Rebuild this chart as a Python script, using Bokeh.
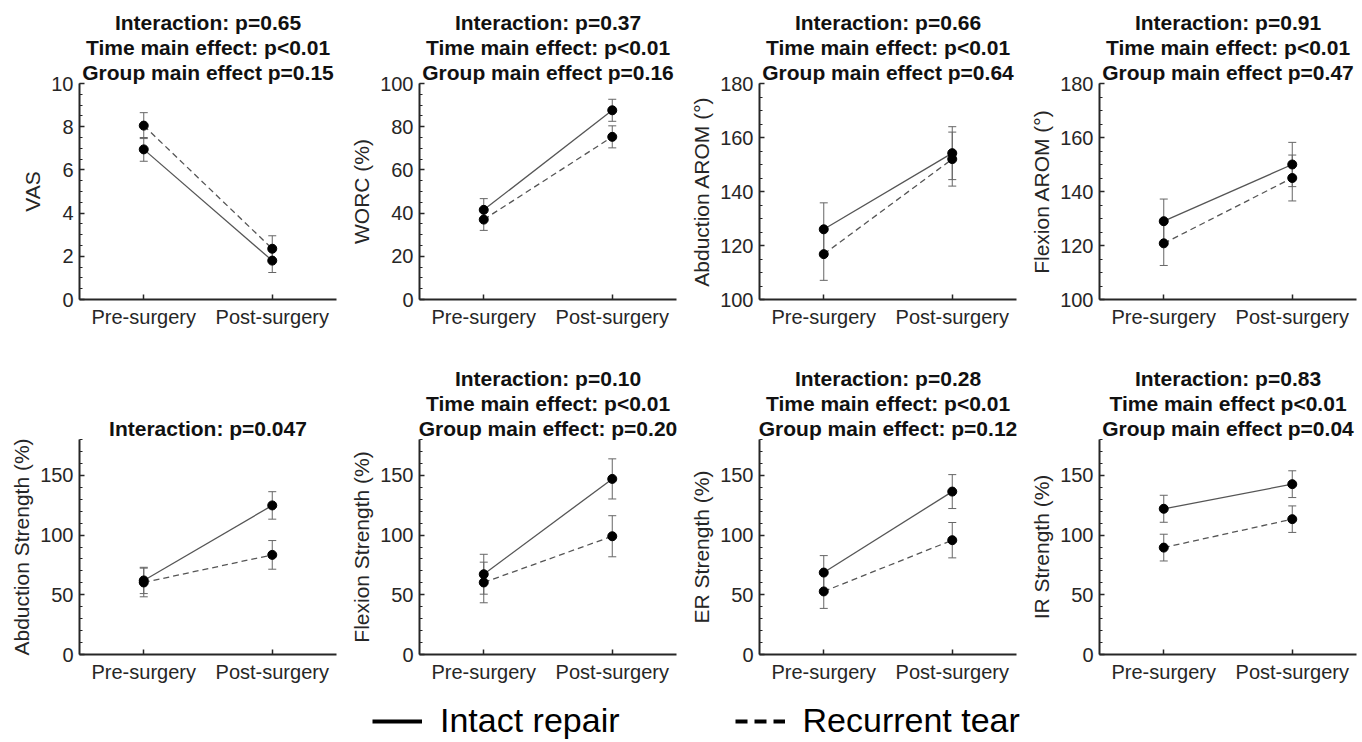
from bokeh.plotting import figure
from bokeh.layouts import column, row
from bokeh.models import (Range1d, FixedTicker, Whisker, TeeHead, ColumnDataSource,
                          Legend, LegendItem, Title)
from bokeh.embed import file_html
from bokeh.resources import INLINE
import numpy as np

# ---------------- data ----------------
timepoints = ["Pre-surgery", "Post-surgery"]
x_pos = [1, 2]
groups = ["Intact repair", "Recurrent tear"]

ylabels = ["VAS", "WORC (%)", "Abduction AROM (°)", "Flexion AROM (°)",
           "Abduction Strength (%)", "Flexion Strength (%)", "ER Strength (%)", "IR Strength (%)"]

titles = [
    ["Interaction: p=0.65", "Time main effect: p<0.01", "Group main effect p=0.15"],
    ["Interaction: p=0.37", "Time main effect: p<0.01", "Group main effect p=0.16"],
    ["Interaction: p=0.66", "Time main effect: p<0.01", "Group main effect p=0.64"],
    ["Interaction: p=0.91", "Time main effect: p<0.01", "Group main effect p=0.47"],
    ["Interaction: p=0.047"],
    ["Interaction: p=0.10", "Time main effect: p<0.01", "Group main effect: p=0.20"],
    ["Interaction: p=0.28", "Time main effect: p<0.01", "Group main effect: p=0.12"],
    ["Interaction: p=0.83", "Time main effect p<0.01", "Group main effect p=0.04"],
]

# mean values (pre, post)
intact_mean = [
    [6.95, 1.80], [41.5, 87.6], [126.0, 154.2], [129.0, 150.0],
    [62.0, 124.8], [67.2, 147.0], [68.6, 136.4], [122.0, 142.6],
]
intact_err = [
    [0.55, 0.55], [5.2, 5.1], [9.8, 9.8], [8.2, 8.2],
    [11.0, 11.5], [16.7, 16.8], [14.2, 14.2], [11.3, 11.2],
]
recurrent_mean = [
    [8.05, 2.35], [37.0, 75.3], [116.8, 152.0], [120.8, 145.0],
    [60.3, 83.4], [60.3, 99.0], [52.8, 95.7], [89.5, 113.3],
]
recurrent_err = [
    [0.60, 0.60], [5.0, 5.1], [9.7, 10.0], [8.2, 8.5],
    [12.0, 12.0], [17.0, 17.2], [14.2, 14.8], [11.2, 11.1],
]

# axis limits / ticks
y_lo = [0, 0, 100, 100, 0, 0, 0, 0]
y_hi = [10, 100, 180, 180, 180, 180, 180, 180]
y_major = [2, 20, 20, 20, 50, 50, 50, 50]
y_minor = [0.5, 5, 5, 5, 10, 10, 10, 10]

# ---------------- style ----------------
AX = "#262626"
LINE = "#555555"
FONT = "Liberation Sans"
TSIZE = "21px"


def style_title(t):
    t.align = "center"
    t.text_font = FONT
    t.text_font_size = TSIZE
    t.text_font_style = "bold"
    t.text_color = "#111111"
    t.standoff = 0
    t.offset = 0


def make_panel(i, width, height, top, bottom, right):
    lines = titles[i]
    p = figure(width=width, height=height,
               x_range=Range1d(0.5, 2.5), y_range=Range1d(y_lo[i], y_hi[i]),
               output_backend="svg", toolbar_location=None,
               min_border_left=79, min_border_right=right,
               min_border_top=top, min_border_bottom=bottom,
               title=lines[0])
    style_title(p.title)
    # extra title lines: the first one added sits closest to the plot frame
    for line in reversed(lines[1:]):
        t = Title(text=line)
        style_title(t)
        p.add_layout(t, "above")

    p.xgrid.visible = False
    p.ygrid.visible = False
    p.outline_line_color = None
    p.background_fill_color = "white"
    p.border_fill_color = "white"

    p.xaxis.ticker = FixedTicker(ticks=x_pos)
    p.xaxis.major_label_overrides = {x: t for x, t in zip(x_pos, timepoints)}
    yt = list(np.arange(y_lo[i], y_hi[i] + 1e-9, y_major[i]))
    ym = list(np.arange(y_lo[i], y_hi[i] + 1e-9, y_minor[i]))
    p.yaxis.ticker = FixedTicker(ticks=yt, minor_ticks=ym)
    p.yaxis.axis_label = ylabels[i]

    for ax in p.axis:
        ax.axis_line_color = AX
        ax.axis_line_width = 2
        ax.major_tick_line_color = AX
        ax.major_tick_line_width = 1.5
        ax.minor_tick_line_color = AX
        ax.minor_tick_line_width = 1.2
        ax.major_tick_in = 5
        ax.major_tick_out = 0
        ax.minor_tick_in = 3
        ax.minor_tick_out = 0
        ax.major_label_text_font = FONT
        ax.major_label_text_font_size = "20px"
        ax.major_label_text_color = AX
        ax.major_label_standoff = 6
        ax.axis_label_text_font = FONT
        ax.axis_label_text_font_size = "21px"
        ax.axis_label_text_font_style = "normal"
        ax.axis_label_text_color = AX
        ax.axis_label_standoff = 4

    for means, errs, dash in ((intact_mean[i], intact_err[i], "solid"),
                              (recurrent_mean[i], recurrent_err[i], "6 4")):
        lo = [m - e for m, e in zip(means, errs)]
        hi = [m + e for m, e in zip(means, errs)]
        src = ColumnDataSource(dict(x=x_pos, y=means, lower=lo, upper=hi))
        w = Whisker(source=src, base="x", lower="lower", upper="upper",
                    line_color="#666666", line_width=1, level="underlay",
                    upper_head=TeeHead(size=8, line_color="#666666", line_width=1),
                    lower_head=TeeHead(size=8, line_color="#666666", line_width=1))
        p.add_layout(w)
        p.line("x", "y", source=src, line_color=LINE, line_width=1.3, line_dash=dash)
        p.scatter("x", "y", source=src, size=9, color="black")
    return p


widths = [340, 340, 340, 340]
rights = [4, 4, 4, 4]
row1 = [make_panel(i, widths[i], 360, 83, 61, rights[i]) for i in range(4)]
row2 = [make_panel(i + 4, widths[i], 325, 79, 30, rights[i]) for i in range(4)]

# legend figure (legend entries only; the lines hold no visible data)
lp = figure(width=1360, height=55, x_range=Range1d(0, 1), y_range=Range1d(0, 1),
            output_backend="svg", toolbar_location=None, min_border=0,
            x_axis_location=None, y_axis_location=None)
lp.outline_line_color = None
lp.xgrid.visible = False
lp.ygrid.visible = False
nan2 = np.array([np.nan, np.nan])
r1 = lp.line(x=nan2, y=nan2, line_color="black", line_width=4)
r2 = lp.line(x=nan2, y=nan2, line_color="black", line_width=4, line_dash="12 7")
legend = Legend(items=[LegendItem(label=groups[0], renderers=[r1]),
                       LegendItem(label=groups[1], renderers=[r2])],
                location=(372, 0), orientation="horizontal",
                glyph_width=50, glyph_height=30, label_standoff=18, spacing=115,
                padding=0, margin=0, border_line_color=None,
                background_fill_alpha=0,
                label_text_font=FONT, label_text_font_size="34px",
                label_text_color="black")
lp.add_layout(legend)

layout = column(row(*row1), row(*row2), lp)

open("out.html", "w").write(file_html(layout, INLINE))
